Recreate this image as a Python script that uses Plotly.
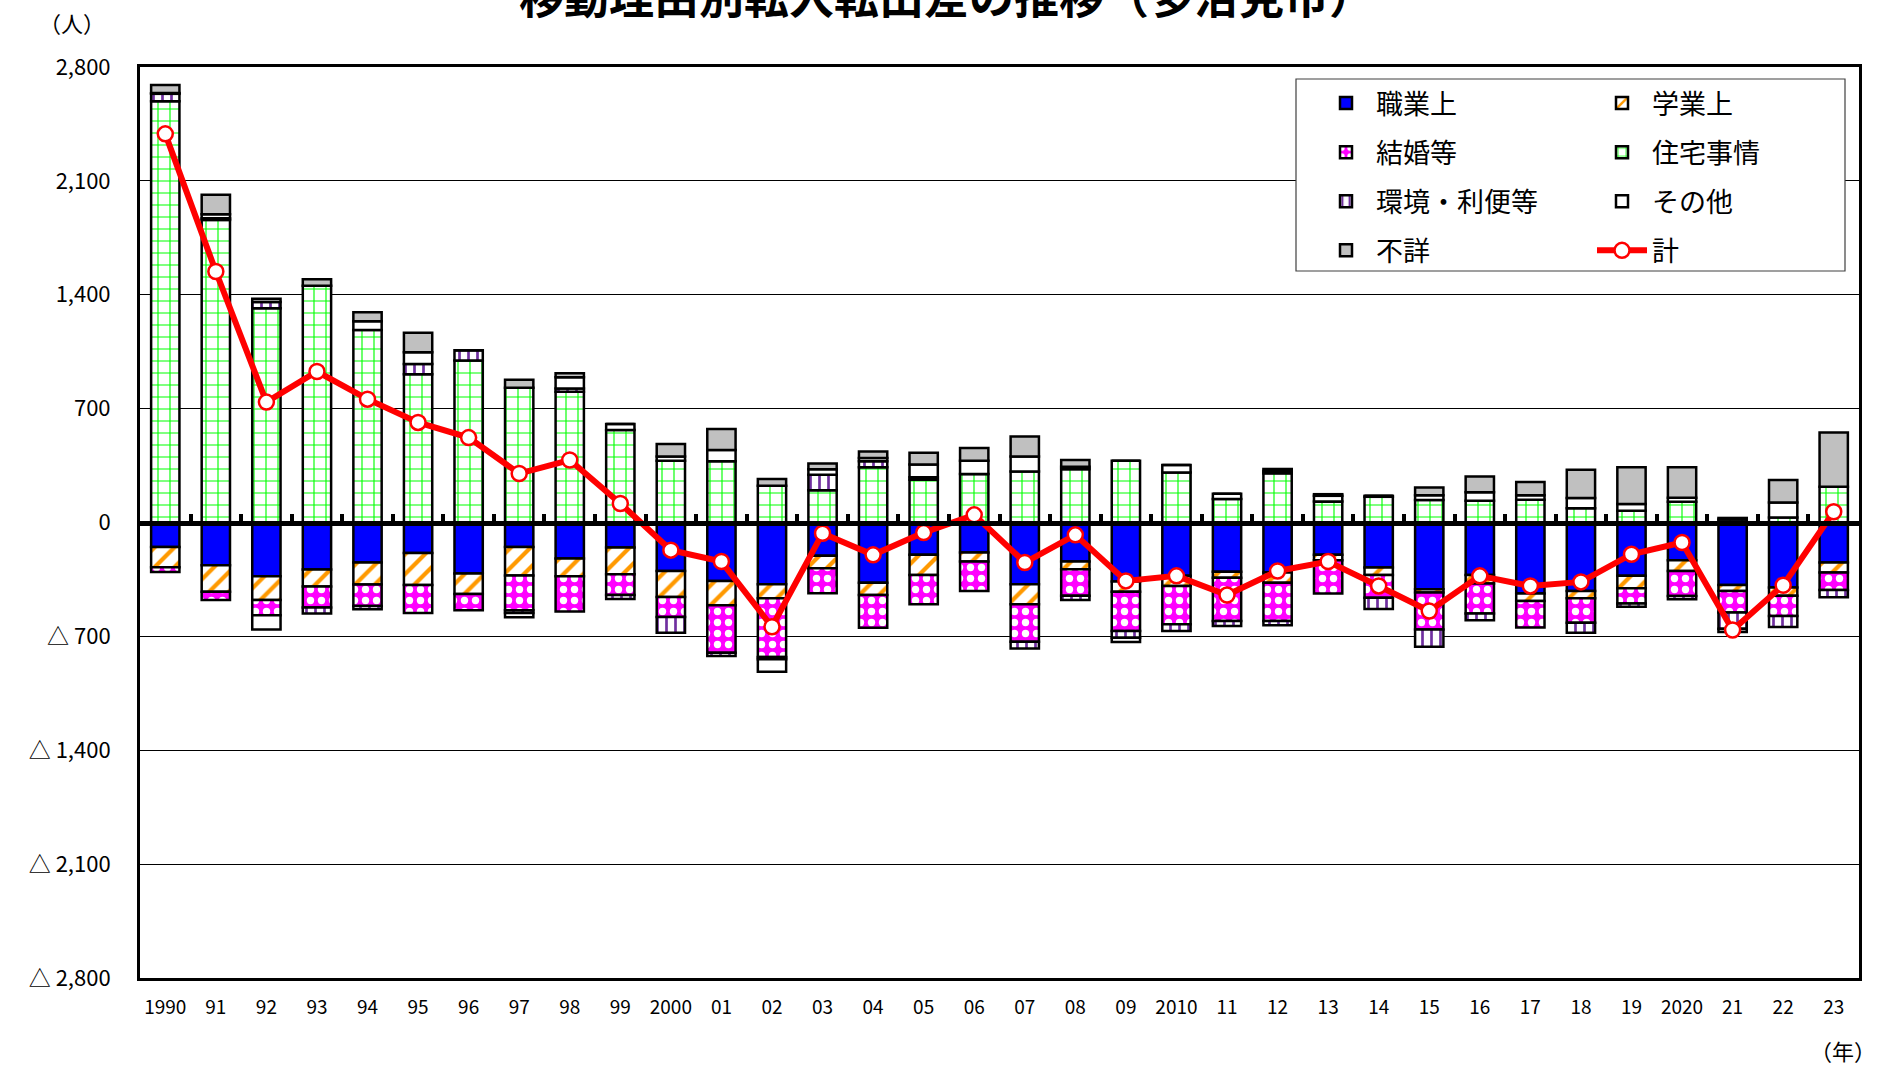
import plotly.graph_objects as go

years = ["1990", "91", "92", "93", "94", "95", "96", "97", "98", "99",
         "2000", "01", "02", "03", "04", "05", "06", "07", "08", "09",
         "2010", "11", "12", "13", "14", "15", "16", "17", "18", "19",
         "2020", "21", "22", "23"]

shokugyo = [-150, -263, -331, -289, -246, -188, -314, -150, -221, -154,
            -298, -359, -380, -205, -370, -199, -185, -380, -240, -363,
            -328, -302, -308, -199, -277, -411, -322, -437, -421, -328,
            -232, -384, -400, -246]
gakugyo = [-125, -163, -146, -105, -135, -196, -125, -176, -110, -164,
           -160, -150, -86, -76, -76, -123, -55, -123, -47, -62,
           -62, -37, -62, -33, -45, -20, -53, -45, -45, -76,
           -66, -37, -51, -62]
kekkon = [-30, -50, -93, -128, -133, -173, -100, -213, -216, -127,
          -123, -292, -361, -154, -201, -181, -181, -230, -164, -242,
          -236, -267, -236, -205, -140, -226, -185, -164, -150, -94,
          -154, -133, -123, -107]
jutaku = [2590, 1860, 1317, 1455, 1184, 911, 996, 828, 803, 569,
          380, 376, 226, 199, 339, 263, 298, 314, 328, 380,
          308, 144, 302, 129, 158, 138, 133, 140, 88, 72,
          127, 18, 31, 220]
kankyo = [45, 10, 38, -38, -20, 63, 63, -18, 20, -25,
          -96, -20, -14, 94, 37, 15, 0, -41, -25, -41,
          -41, -30, -25, 0, -70, -107, -41, 0, -62, -20,
          -20, -99, -68, -45]
sonota = [5, 25, -88, 0, 53, 73, 0, -25, 70, 37,
          25, 70, -76, 35, 20, 78, 82, 92, 15, -27,
          45, 33, 15, 35, 6, 30, 53, 27, 62, 41,
          25, 10, 92, 0]
fusho = [50, 120, 20, 40, 55, 120, 0, 50, 25, 0,
         78, 129, 41, 35, 41, 72, 78, 123, 41, 0,
         0, 0, 12, 10, 0, 47, 96, 82, 175, 226,
         187, -20, 138, 333]
total = [2389, 1543, 740, 928, 758, 615, 522, 301, 384, 117,
         -170, -240, -641, -66, -199, -62, 47, -246, -76, -359,
         -328, -446, -298, -240, -390, -544, -328, -390, -365, -195,
         -123, -661, -386, 66]

ytickvals = [-2800, -2100, -1400, -700, 0, 700, 1400, 2100, 2800]
yticktext = ["△ 2,800", "△ 2,100", "△ 1,400", "△ 700", "0", "700", "1,400", "2,100", "2,800"]

FONT = "Noto Sans CJK JP"
W, H = 1877, 1065
ML, MR, MT, MB = 140, 18, 67, 87
PW, PH = W - ML - MR, H - MT - MB


def px_x(px):
    return (px - ML) / PW


def px_y(py):
    return (H - MB - py) / PH


outline = dict(color="black", width=2.5)

fig = go.Figure()
series = [
    ("職業上", shokugyo, "legend", dict(color="#0000FF", line=outline)),
    ("学業上", gakugyo, "legend2", dict(color="white", line=outline,
                                     pattern=dict(shape="/", fgcolor="#FF9900", bgcolor="white",
                                                  size=14, solidity=0.3, fillmode="replace"))),
    ("結婚等", kekkon, "legend", dict(color="#FF00FF", line=outline,
                                    pattern=dict(shape=".", fgcolor="white", bgcolor="#FF00FF",
                                                 size=11, solidity=0.35, fillmode="replace"))),
    ("住宅事情", jutaku, "legend2", dict(color="white", line=outline,
                                      pattern=dict(shape="+", fgcolor="#00FF00", bgcolor="white",
                                                   size=12, solidity=0.18, fillmode="replace"))),
    ("環境・利便等", kankyo, "legend", dict(color="white", line=outline,
                                        pattern=dict(shape="|", fgcolor="#7030A0", bgcolor="white",
                                                     size=9, solidity=0.3, fillmode="replace"))),
    ("その他", sonota, "legend2", dict(color="white", line=outline)),
    ("不詳", fusho, "legend", dict(color="#C0C0C0", line=outline)),
]
for name, vals, leg, marker in series:
    fig.add_trace(go.Bar(x=years, y=vals, name=name, marker=marker,
                         legend=leg, legendgroup=name))

fig.add_trace(go.Scatter(
    x=years, y=total, name="計", mode="lines+markers", legend="legend2", legendgroup="計",
    line=dict(color="#FF0000", width=6),
    marker=dict(size=15, color="white", line=dict(color="#FF0000", width=2.5)),
))

leg_common = dict(
    orientation="v", yanchor="top", xanchor="left",
    bgcolor="rgba(0,0,0,0)", borderwidth=0,
    font=dict(family=FONT, size=27, color="black"),
    itemwidth=50, traceorder="grouped", tracegroupgap=11,
)

fig.update_layout(
    width=W, height=H,
    margin=dict(l=ML, r=MR, t=MT, b=MB),
    paper_bgcolor="white", plot_bgcolor="white",
    barmode="relative", bargap=0.44,
    font=dict(family=FONT, color="black", size=20),
    showlegend=True,
    legend=dict(x=px_x(1316), y=px_y(79), **leg_common),
    legend2=dict(x=px_x(1592), y=px_y(79), **leg_common),
    xaxis=dict(
        type="category", showline=True, linecolor="black", linewidth=3, mirror=True,
        ticks="", showgrid=False, tickfont=dict(family=FONT, size=19),
        ticklabelstandoff=10, range=[-0.5, 33.5],
    ),
    xaxis2=dict(
        overlaying="x", anchor="free", position=0.5, side="bottom",
        range=[-0.5, 33.5], showgrid=False, showticklabels=False,
        showline=True, linecolor="black", linewidth=5,
        ticks="inside", ticklen=7, tickwidth=4, tickcolor="black",
        tickvals=[i - 0.5 for i in range(len(years) + 1)],
        zeroline=False, layer="above traces",
    ),
    yaxis=dict(
        range=[-2800, 2800], tickvals=ytickvals, ticktext=yticktext,
        showgrid=True, gridcolor="black", gridwidth=1,
        showline=True, linecolor="black", linewidth=3, mirror=True,
        zeroline=False, ticks="", ticklabelstandoff=22,
        tickfont=dict(family=FONT, size=22),
    ),
)

# invisible trace to activate xaxis2 (the zero line with category boundary ticks)
fig.add_trace(go.Scatter(x=[-0.5, 33.5], y=[0, 0], xaxis="x2", mode="lines",
                         line=dict(width=0), showlegend=False, hoverinfo="skip"))

# legend frame
fig.add_shape(type="rect", xref="paper", yref="paper",
              x0=px_x(1296), x1=px_x(1845), y0=px_y(271), y1=px_y(79),
              line=dict(color="#404040", width=1.2), fillcolor="white", layer="above")

fig.add_annotation(text="<b>移動理由別転入転出差の推移（多治見市）</b>",
                   xref="paper", yref="paper", x=px_x(946), y=px_y(-5),
                   xanchor="center", yanchor="middle", showarrow=False,
                   font=dict(family=FONT, size=45, color="black"))
fig.add_annotation(text="（人）", xref="paper", yref="paper", x=px_x(72), y=px_y(22),
                   xanchor="center", yanchor="middle", showarrow=False,
                   font=dict(family=FONT, size=22, color="black"))
fig.add_annotation(text="（年）", xref="paper", yref="paper", x=px_x(1843), y=px_y(1050),
                   xanchor="center", yanchor="middle", showarrow=False,
                   font=dict(family=FONT, size=22, color="black"))

fig.write_html("out.html", config={"displayModeBar": False},
               post_script="document.body.style.margin='0';document.body.style.overflow='hidden';")
